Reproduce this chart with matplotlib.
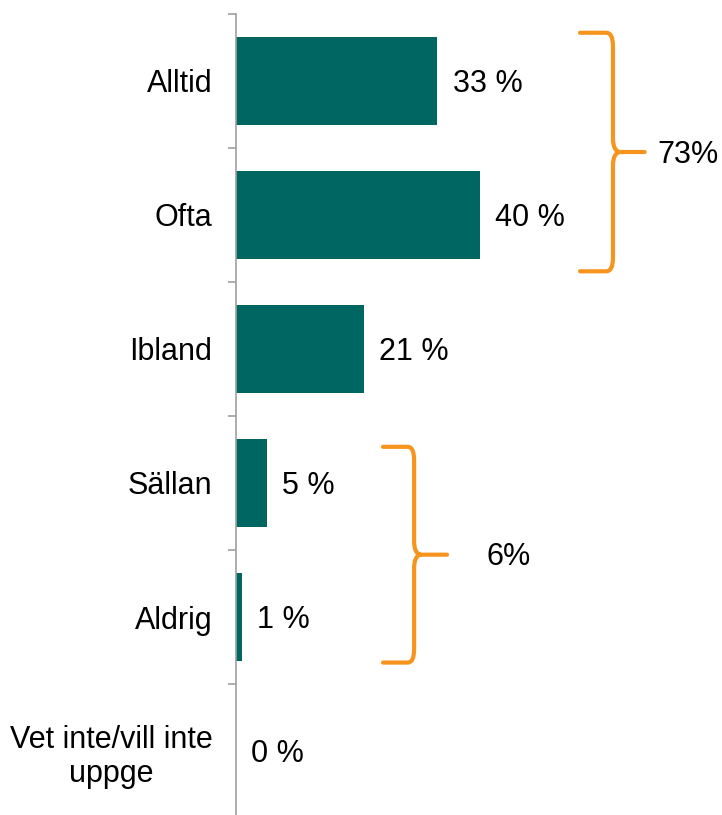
import matplotlib
matplotlib.use("Agg")
import matplotlib.pyplot as plt
from matplotlib.path import Path
from matplotlib.patches import PathPatch

plt.rcParams['font.family'] = ['Liberation Sans', 'DejaVu Sans']

categories = ["Alltid", "Ofta", "Ibland", "Sällan", "Aldrig", "Vet inte/vill inte\nuppge"]
values = [33, 40, 21, 5, 1, 0]
value_labels = ["33 %", "40 %", "21 %", "5 %", "1 %", "0 %"]
group_ranges = [(0, 1), (3, 4)]
group_labels = ["73%", "6%"]

bar_color = "#006662"
brace_color = "#F7941D"
fs = 22

fig = plt.figure(figsize=(7.22, 8.15), dpi=100)
ax = fig.add_axes([236/722, -3/815, 486/722, 804/815])

y = list(range(len(categories)))
ax.barh(y, values, height=0.66, color=bar_color)
ax.set_ylim(len(categories) - 0.5, -0.5)
ax.set_xlim(0, 486/6.1)

ax.set_yticks(y)
ax.set_yticklabels(categories, fontsize=fs, multialignment='center')
ax.tick_params(axis='y', which='major', length=0, pad=17)
ax.set_yticks([i - 0.5 for i in range(len(categories) + 1)], minor=True)
ax.tick_params(axis='y', which='minor', length=6, width=1.2, color='#A0A0A0', direction='out')
ax.set_xticks([])
for s in ['top', 'right', 'bottom']:
    ax.spines[s].set_visible(False)
ax.spines['left'].set_color('#A0A0A0')
ax.spines['left'].set_linewidth(1.2)

for yi, v, lab in zip(y, values, value_labels):
    ax.annotate(lab, (v, yi), xytext=(11, -2), textcoords='offset points',
                va='center', ha='left', fontsize=fs)

def brace(ax, x0, x1, xt, ytop, ybot, color):
    ym = (ytop + ybot) / 2
    rx = (x1 - x0) * 0.2
    ry = 0.1
    verts = [
        (x0, ytop), (x1 - rx, ytop), (x1, ytop), (x1, ytop + ry),
        (x1, ym - ry), (x1, ym - 0.01), (x1 + rx, ym), (xt, ym),
        (x1 + rx, ym), (x1, ym + 0.01), (x1, ym + ry),
        (x1, ybot - ry), (x1, ybot), (x1 - rx, ybot), (x0, ybot),
    ]
    codes = [Path.MOVETO, Path.LINETO, Path.CURVE3, Path.CURVE3,
             Path.LINETO, Path.CURVE3, Path.CURVE3, Path.LINETO,
             Path.MOVETO, Path.CURVE3, Path.CURVE3,
             Path.LINETO, Path.CURVE3, Path.CURVE3, Path.LINETO]
    p = PathPatch(Path(verts, codes), fill=False, edgecolor=color, lw=3,
                  capstyle='round', joinstyle='round', clip_on=False)
    ax.add_patch(p)
    return ym

brace_x = [(56.4, 61.8, 67.0, 69.0), (24.1, 29.2, 34.6, 41.1)]
brace_pad = [(0.36, 0.42), (0.27, 0.34)]
for (a, b), lab, (x0, x1, xt, xl), (pt, pb) in zip(group_ranges, group_labels, brace_x, brace_pad):
    ym = brace(ax, x0, x1, xt, a - pt, b + pb, brace_color)
    ax.text(xl, ym + 0.02, lab, fontsize=fs, va='center', ha='left')

fig.savefig("out.png", dpi=100)
